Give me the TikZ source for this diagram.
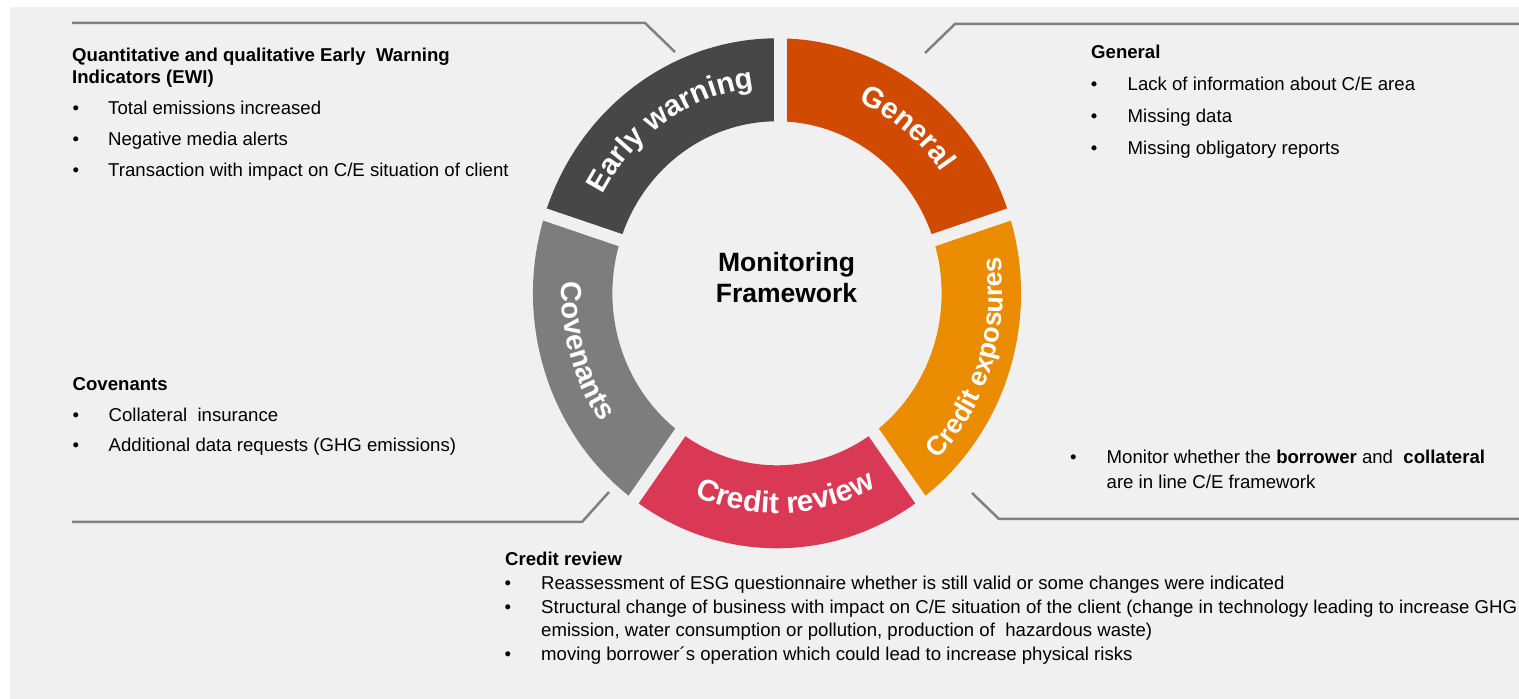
\documentclass[tikz,border=0pt]{standalone}
\usepackage{fontspec}
\setmainfont{Liberation Sans}
\usetikzlibrary{decorations.text}
\definecolor{bgcol}{HTML}{F0F0F0}
\definecolor{lncol}{HTML}{808080}
\definecolor{ewcol}{HTML}{474747}
\definecolor{gencol}{HTML}{D04A02}
\definecolor{cecol}{HTML}{EB8C00}
\definecolor{crcol}{HTML}{DA3956}
\definecolor{covcol}{HTML}{7D7D7D}
\newcommand{\bodyfs}{\fontsize{18.6}{22}\selectfont}
\tikzset{
  hd/.style={anchor=base west, inner sep=0pt, font=\bfseries\bodyfs},
  tx/.style={anchor=base west, inner sep=0pt, font=\bodyfs},
  bul/.style={anchor=base, inner sep=0pt, font=\bodyfs},
  ctr/.style={anchor=base, inner sep=0pt, font=\bfseries\fontsize{26.5}{30}\selectfont},
  conn/.style={draw=lncol, line width=2.5pt},
  gapline/.style={draw=bgcol, line width=12.5pt},
}
\begin{document}
\begin{tikzpicture}[x=1pt,y=1pt]
\useasboundingbox (0,0) rectangle (1519,699);
\fill[bgcol] (10,0) rectangle (1519,692);

% ring
\coordinate (C) at (777,405.7);
\begin{scope}[shift={(C)}, xscale=0.957]
  \fill[ewcol]  (162:255) arc[start angle=162, end angle=90, radius=255] -- (90:172) arc[start angle=90, end angle=162, radius=172] -- cycle;
  \fill[gencol] (90:255) arc[start angle=90, end angle=18, radius=255] -- (18:172) arc[start angle=18, end angle=90, radius=172] -- cycle;
  \fill[cecol]  (18:255) arc[start angle=18, end angle=-54, radius=255] -- (-54:172) arc[start angle=-54, end angle=18, radius=172] -- cycle;
  \fill[crcol]  (-54:255) arc[start angle=-54, end angle=-126, radius=255] -- (-126:172) arc[start angle=-126, end angle=-54, radius=172] -- cycle;
  \fill[covcol] (234:255) arc[start angle=234, end angle=162, radius=255] -- (162:172) arc[start angle=162, end angle=234, radius=172] -- cycle;
  \foreach \a in {18,-54,-126,162} \draw[gapline] (\a:150) -- (\a:270);
  \draw[gapline] ([xshift=3.5pt]90:150) -- ([xshift=3.5pt]90:270);
\end{scope}

% ring labels
\begin{scope}[shift={(C)}]
  \path[decorate, decoration={text along path, text align=center, text color=white,
     text={|\bfseries\fontsize{29.5}{29.5}\selectfont|Early warning}}]
     (158:198.1 and 207) arc[start angle=158, end angle=90, x radius=198.1, y radius=207];
  \path[decorate, decoration={text along path, text align=center, text color=white,
     text={|\bfseries\fontsize{29.5}{29.5}\selectfont|General}}]
     (85:201 and 210) arc[start angle=85, end angle=17, x radius=201, y radius=210];
  \path[decorate, decoration={text along path, text align=center, text color=white,
     text={|\bfseries\fontsize{27}{27}\selectfont|Credit exposures}}]
     (-53:225.9 and 236) arc[start angle=-53, end angle=17, x radius=225.9, y radius=236];
  \path[decorate, decoration={text along path, text align=center, text color=white,
     text={|\bfseries\fontsize{30}{30}\selectfont|Credit review}}]
     (-122.5:210.5 and 220) arc[start angle=-122.5, end angle=-52.5, x radius=210.5, y radius=220];
  \path[decorate, decoration={text along path, text align=center, text color=white,
     text={|\bfseries\fontsize{29}{29}\selectfont|Covenants}}]
     (161.2:215.3 and 225) arc[start angle=161.2, end angle=231.2, x radius=215.3, y radius=225];
\end{scope}

% centre
\node[ctr] (mon) at (786.5,427.5) {Monitoring};
\node[ctr] (frm) at (786.5,396.5) {Framework};

% connector brackets
\coordinate (tla) at (72,676);  \coordinate (tlb) at (645,676);  \coordinate (tlc) at (675,647);
\coordinate (tra) at (925,646); \coordinate (trb) at (955,675);  \coordinate (trc) at (1519,675);
\coordinate (bla) at (609,207); \coordinate (blb) at (582,177);  \coordinate (blc) at (72,177);
\coordinate (bra) at (972,206); \coordinate (brb) at (999,180);  \coordinate (brc) at (1519,180);
\draw[conn] (tla) -- (tlb) -- (tlc);
\draw[conn] (tra) -- (trb) -- (trc);
\draw[conn] (bla) -- (blb) -- (blc);
\draw[conn] (bra) -- (brb) -- (brc);

% early warning block
\node[hd] (ewh1) at (72,637) {Quantitative and qualitative Early\ \ Warning};
\node[hd] (ewh2) at (72,615) {Indicators (EWI)};
\node[bul] (ewb1) at (76,584.5) {•};
\node[tx]  (ewt1) at (108,584.5) {Total emissions increased};
\node[bul] (ewb2) at (76,553) {•};
\node[tx]  (ewt2) at (108,553) {Negative media alerts};
\node[bul] (ewb3) at (76,522.5) {•};
\node[tx]  (ewt3) at (108,522.5) {Transaction with impact on C/E situation of client};

% general block
\node[hd] (gnh) at (1091,640.4) {General};
\node[bul] (gnb1) at (1094,608.8) {•};
\node[tx]  (gnt1) at (1127.5,608.8) {Lack of information about C/E area};
\node[bul] (gnb2) at (1094,576.4) {•};
\node[tx]  (gnt2) at (1127.5,576.4) {Missing data};
\node[bul] (gnb3) at (1094,544.8) {•};
\node[tx]  (gnt3) at (1127.5,544.8) {Missing obligatory reports};

% covenants block
\node[hd] (cvh) at (72.5,308.8) {Covenants};
\node[bul] (cvb1) at (76,277.8) {•};
\node[tx]  (cvt1) at (108.5,277.8) {Collateral\ \ insurance};
\node[bul] (cvb2) at (76,247.5) {•};
\node[tx]  (cvt2) at (108.5,247.5) {Additional data requests (GHG emissions)};

% credit exposures block
\node[bul] (ceb1) at (1073.4,235.4) {•};
\node[tx]  (cet1) at (1106.5,235.4) {Monitor whether the \textbf{borrower} and\ \ \textbf{collateral}};
\node[tx]  (cet2) at (1106.5,210.4) {are in line C/E framework};

% credit review block
\node[hd] (crh) at (505,133.8) {Credit review};
\node[bul] (crb1) at (508,109.4) {•};
\node[tx]  (crt1) at (541,109.4) {Reassessment of ESG questionnaire whether is still valid or some changes were indicated};
\node[bul] (crb2) at (508,85.4) {•};
\node[tx]  (crt2) at (541,85.4) {Structural change of business with impact on C/E situation of the client (change in technology leading to increase GHG};
\node[tx]  (crt2b) at (541,62.1) {emission, water consumption or pollution, production of\ \ hazardous waste)};
\node[bul] (crb3) at (508,38.1) {•};
\node[tx]  (crt3) at (541,38.1) {moving borrower´s operation which could lead to increase physical risks};
\end{tikzpicture}
\end{document}
